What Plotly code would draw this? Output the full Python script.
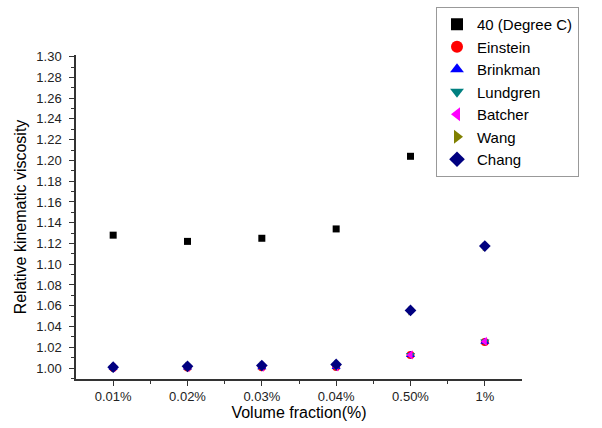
import plotly.graph_objects as go

categories = ["0.01%", "0.02%", "0.03%", "0.04%", "0.50%", "1%"]
measured_40C = [1.128, 1.122, 1.125, 1.134, 1.204, None]
einstein = [1.00025, 1.0005, 1.00075, 1.001, 1.0125, 1.025]
brinkman = [1.00025, 1.0005, 1.00075, 1.001, 1.0126, 1.0254]
lundgren = [1.00025, 1.0005, 1.00075, 1.001, 1.0126, 1.0255]
batcher = [1.00025, 1.0005, 1.00075, 1.001, 1.0126, 1.0256]
wang = [1.0007, 1.0015, 1.0022, 1.003, 1.055, 1.117]
chang = [1.0008, 1.0016, 1.0024, 1.0034, 1.0555, 1.1175]

xpos = list(range(len(categories)))

series = [
    ("40 (Degree C)", measured_40C, "square", "#000000", 7),
    ("Einstein", einstein, "circle", "#FF0000", 8),
    ("Brinkman", brinkman, "triangle-up", "#0000FF", 8),
    ("Lundgren", lundgren, "triangle-down", "#008080", 8),
    ("Batcher", batcher, "triangle-left", "#FF00FF", 8),
    ("Wang", wang, "triangle-right", "#808000", 8),
    ("Chang", chang, "diamond", "#000080", 9),
]

fig = go.Figure()
for name, vals, sym, col, sz in series:
    fig.add_trace(go.Scatter(
        x=xpos, y=vals, mode="markers", name=name,
        marker=dict(symbol=sym, color=col, size=sz, line=dict(width=0)),
    ))

font = "Liberation Sans, Arial, sans-serif"
fig.update_layout(
    width=602, height=428,
    margin=dict(l=76, r=80, t=55, b=49, autoexpand=False),
    paper_bgcolor="white", plot_bgcolor="white",
    font=dict(family=font, size=13, color="#000000"),
    showlegend=True,
    legend=dict(
        x=(436 - 76) / 446, y=(379 - 7) / 324, xanchor="left", yanchor="top",
        bordercolor="#999999", borderwidth=1, bgcolor="white",
        font=dict(family=font, size=15, color="#000000"),
        itemsizing="constant",
    ),
    xaxis=dict(
        range=[-0.5, 5.5], tickmode="array", tickvals=xpos, ticktext=categories,
        showgrid=False, zeroline=False, showline=True, linecolor="#333333", linewidth=1.5,
        ticks="outside", ticklen=5, tickwidth=1.2, tickcolor="#333333",
        tickfont=dict(size=13, color="#222222"), ticklabelstandoff=0,
        minor=dict(tickvals=[i + 0.5 for i in xpos[:-1]], ticks="outside", ticklen=3,
                   tickcolor="#333333", tickwidth=1.2, showgrid=False),
        title=dict(text="Volume fraction(%)", font=dict(size=16), standoff=2),
        automargin=False,
    ),
    yaxis=dict(
        range=[0.9894, 1.3016], tickmode="linear", tick0=1.0, dtick=0.02, tickformat=".2f",
        showgrid=False, zeroline=False, showline=True, linecolor="#333333", linewidth=1.5,
        ticks="outside", ticklen=5, tickwidth=1.2, tickcolor="#333333",
        tickfont=dict(size=13, color="#222222"), ticklabelstandoff=5,
        minor=dict(dtick=0.01, tick0=1.0, ticks="outside", ticklen=3,
                   tickcolor="#333333", tickwidth=1.2, showgrid=False),
        title=dict(text="Relative kinematic viscosity", font=dict(size=16), standoff=6),
        automargin=False,
    ),
)

fig.write_html("out.html")
